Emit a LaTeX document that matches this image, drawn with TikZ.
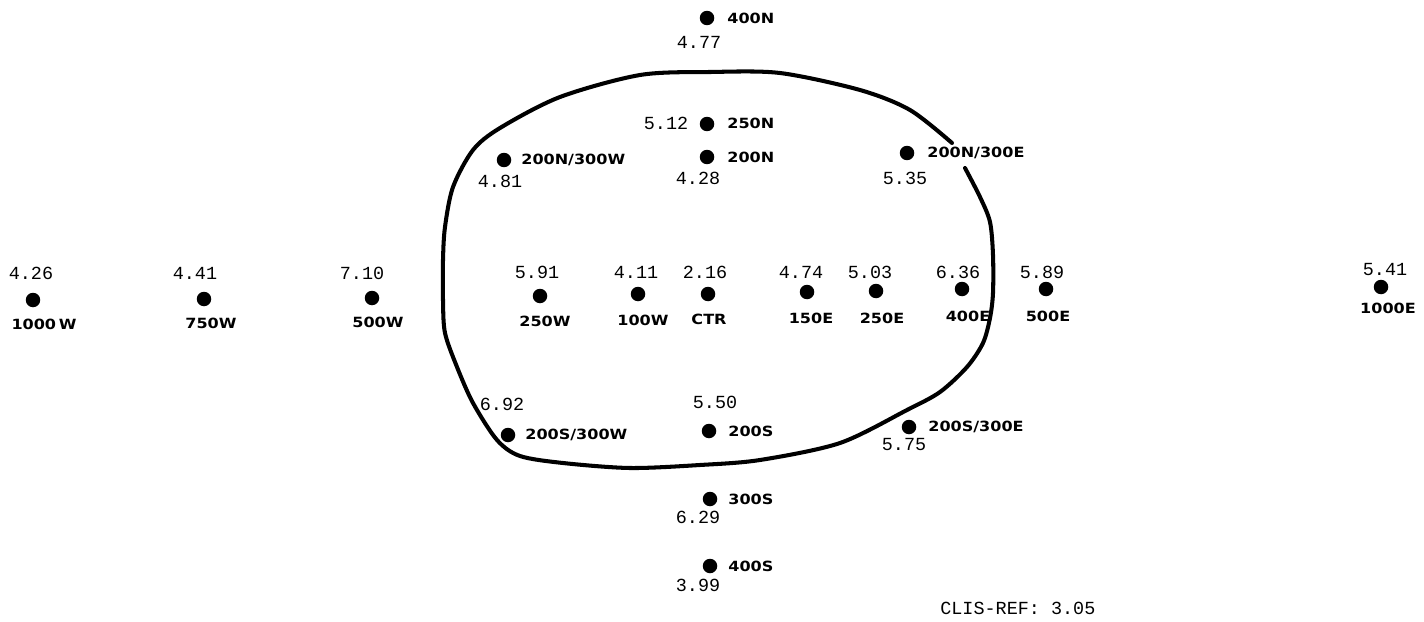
\documentclass[tikz,border=0pt]{standalone}
\usepackage{fontspec}
\usepackage{graphicx}
\newfontfamily\valfont{Liberation Mono}
\newfontfamily\lblfont{DejaVu Sans}
\newcommand{\wlbl}[1]{\scalebox{1.14}[1]{#1}}
\tikzset{
  pt/.style={circle,fill=black,inner sep=0pt,minimum size=0.29cm},
  val/.style={font=\valfont\fontsize{10.5}{11}\selectfont,inner sep=0pt},
  lbl/.style={font=\lblfont\bfseries\fontsize{8}{9}\selectfont,inner sep=0pt,anchor=west},
  lblc/.style={font=\lblfont\bfseries\fontsize{8}{9}\selectfont,inner sep=0pt},
  contour/.style={line width=2.3pt,line join=round,line cap=round}
}
\begin{document}
\begin{tikzpicture}[x=0.02cm,y=-0.02cm]
\useasboundingbox (0,0) rectangle (1424,622);
% contour
\draw[contour] plot[smooth,tension=0.5] coordinates{
 (965,168) (980,197) (990,222) (993,255) (993,293) (990,318) (983,343) (967,367)
 (940,392) (907,410) (840,443) (760,460) (700,465) (630,468) (563,463) (520,456)
 (497,440) (473,403) (457,367) (445,333) (443,300) (443,260) (445,227) (453,187)
 (473,150) (500,128) (560,97) (640,75) (710,72) (780,73) (860,90) (910,110) (952,143)};
% top group
\node[pt] (n400) at (707,18) {};
\node[lbl] (n400l) at (727,18) {\wlbl{400N}};
\node[val] (n400v) at (699,42) {4.77};
\node[pt] (n250) at (707,124) {};
\node[lbl] (n250l) at (727,123) {\wlbl{250N}};
\node[val] (n250v) at (666,123) {5.12};
\node[pt] (n200) at (707,157) {};
\node[lbl] (n200l) at (727,157) {\wlbl{200N}};
\node[val] (n200v) at (698,178) {4.28};
\node[pt] (nw) at (504,160) {};
\node[lbl] (nwl) at (521,160) {\wlbl{200N/300W}};
\node[val] (nwv) at (500,181) {4.81};
\node[pt] (ne) at (907,153) {};
\node[lbl] (nel) at (927,153) {\wlbl{200N/300E}};
\node[val] (nev) at (905,178) {5.35};
% middle row
\node[pt] (w1000) at (33,300) {};
\node[lblc] (w1000l) at (44,324) {\wlbl{1000\,W}};
\node[val] (w1000v) at (31,273) {4.26};
\node[pt] (w750) at (204,299) {};
\node[lblc] (w750l) at (211,323) {\wlbl{750W}};
\node[val] (w750v) at (195,273) {4.41};
\node[pt] (w500) at (372,298) {};
\node[lblc] (w500l) at (378,322) {\wlbl{500W}};
\node[val] (w500v) at (362,273) {7.10};
\node[pt] (w250) at (540,296) {};
\node[lblc] (w250l) at (545,321) {\wlbl{250W}};
\node[val] (w250v) at (537,272) {5.91};
\node[pt] (w100) at (638,294) {};
\node[lblc] (w100l) at (643,320) {\wlbl{100W}};
\node[val] (w100v) at (636,272) {4.11};
\node[pt] (ctr) at (708,294) {};
\node[lblc] (ctrl) at (709,319) {\wlbl{CTR}};
\node[val] (ctrv) at (705,272) {2.16};
\node[pt] (e150) at (807,292) {};
\node[lblc] (e150l) at (811,318) {\wlbl{150E}};
\node[val] (e150v) at (801,272) {4.74};
\node[pt] (e250) at (876,291) {};
\node[lblc] (e250l) at (882,318) {\wlbl{250E}};
\node[val] (e250v) at (870,272) {5.03};
\node[pt] (e400) at (962,289) {};
\node[lblc] (e400l) at (968,316) {\wlbl{400E}};
\node[val] (e400v) at (958,272) {6.36};
\node[pt] (e500) at (1046,289) {};
\node[lblc] (e500l) at (1048,316) {\wlbl{500E}};
\node[val] (e500v) at (1042,272) {5.89};
\node[pt] (e1000) at (1381,287) {};
\node[lblc] (e1000l) at (1388,308) {\wlbl{1000E}};
\node[val] (e1000v) at (1385,270) {5.41};
% bottom group
\node[pt] (sw) at (508,435) {};
\node[lbl] (swl) at (525,435) {\wlbl{200S/300W}};
\node[val] (swv) at (502,404) {6.92};
\node[pt] (s200) at (709,431) {};
\node[lbl] (s200l) at (728,431) {\wlbl{200S}};
\node[val] (s200v) at (715,402) {5.50};
\node[pt] (se) at (909,427) {};
\node[lbl] (sel) at (928,427) {\wlbl{200S/300E}};
\node[val] (sev) at (904,445) {5.75};
\node[pt] (s300) at (710,499) {};
\node[lbl] (s300l) at (728,499) {\wlbl{300S}};
\node[val] (s300v) at (698,517) {6.29};
\node[pt] (s400) at (710,566) {};
\node[lbl] (s400l) at (728,566) {\wlbl{400S}};
\node[val] (s400v) at (698,585) {3.99};
\node[val,anchor=west] (ref) at (940,608) {CLIS-REF: 3.05};
\end{tikzpicture}
\end{document}
